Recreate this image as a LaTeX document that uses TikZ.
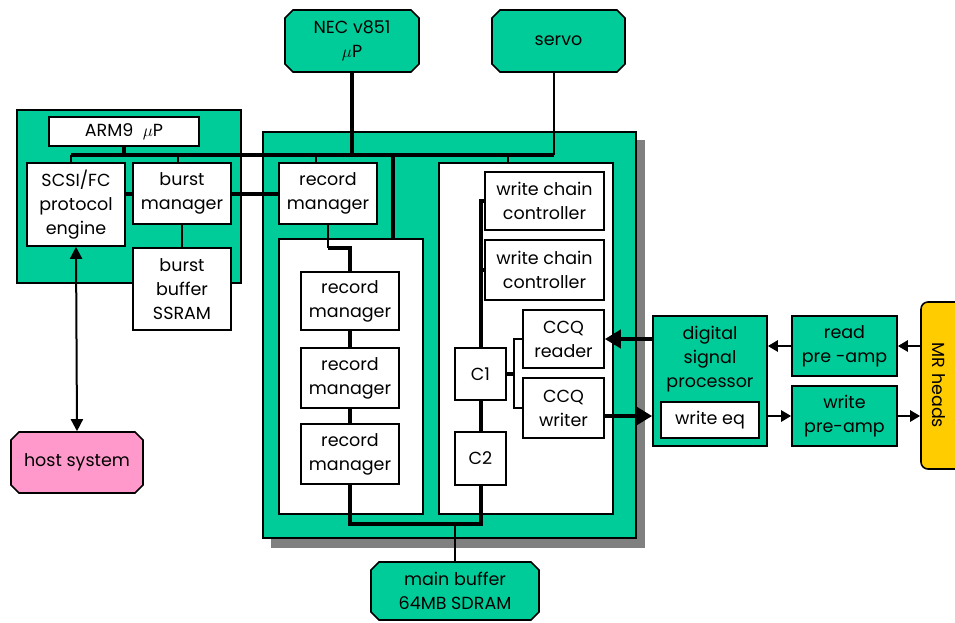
\documentclass[tikz,border=0pt]{standalone}
\usepackage{fontspec}
\setmainfont{Poppins}
\usepackage{tikz}
\usetikzlibrary{arrows.meta,shapes.misc}
\definecolor{chipgreen}{HTML}{00CC99}
\definecolor{hostpink}{HTML}{FF99CC}
\definecolor{headyellow}{HTML}{FFCC00}
\definecolor{shadowgray}{HTML}{808080}
\tikzset{
	box/.style={draw, line width=1.6pt, fill=white, inner sep=0pt, align=center},
	chip/.style={box, fill=chipgreen},
	pkg/.style={chip, chamfered rectangle, chamfered rectangle sep=4pt},
	link/.style={line width=1.6pt},
	bus/.style={line width=4pt},
	arr/.style={line width=2.4pt, -{Triangle[length=10pt,width=11pt]}},
	bigarr/.style={line width=4pt, -{Triangle[length=16pt,width=18pt]}},
	hostarr/.style={line width=2pt, {Triangle[length=12pt,width=12pt]}-{Triangle[length=12pt,width=12pt]}}
}

\begin{document}
\begin{tikzpicture}[x=1pt, y=-1pt, font=\fontsize{17.5}{24}\selectfont]
		\useasboundingbox (0,0) rectangle (955,622);

		% boards
		\fill[shadowgray] (271,140) rectangle (645,548);
		\node[chip, minimum width=373, minimum height=406] (fpga) at (449.5,335) {};
		\node[chip, minimum width=224, minimum height=173] (armchip) at (129,196.5) {};
		\node[box, minimum width=144, minimum height=275] (recpanel) at (351,376.5) {};
		\node[box, minimum width=174, minimum height=351] (wrpanel) at (526,338.5) {};

		\node[box, minimum width=150, minimum height=29] (arm) at (124,131.5) {ARM9~~$\mu$P};
		\node[box, minimum width=98, minimum height=83] (scsi) at (76,204.5) {SCSI/FC\\protocol\\engine};
		\node[box, minimum width=98, minimum height=61] (burst) at (182,193.5) {burst\\manager};
		\node[box, minimum width=98, minimum height=82] (bbuf) at (182,289) {burst\\buffer\\SSRAM};

		\node[box, minimum width=98, minimum height=61] (rmA) at (328,193.5) {record\\manager};
		\node[box, minimum width=98, minimum height=58] (rmB) at (350,301) {record\\manager};
		\node[box, minimum width=98, minimum height=60] (rmC) at (350,378) {record\\manager};
		\node[box, minimum width=98, minimum height=60] (rmD) at (350,454) {record\\manager};

		\node[box, minimum width=119, minimum height=58] (wccA) at (544.5,201) {write chain\\controller};
		\node[box, minimum width=119, minimum height=60] (wccB) at (544.5,270) {write chain\\controller};
		\node[box, minimum width=81, minimum height=58] (ccqR) at (563.5,339) {CCQ\\reader};
		\node[box, minimum width=81, minimum height=60] (ccqW) at (563.5,408) {CCQ\\writer};
		\node[box, minimum width=51, minimum height=52] (cA) at (480.5,374) {C1};
		\node[box, minimum width=51, minimum height=53] (cB) at (480.5,458.5) {C2};

		\node[pkg, minimum width=134, minimum height=62] (nec) at (352,41) {NEC v851\\$\mu$P};
		\node[pkg, minimum width=133, minimum height=62] (servo) at (558.5,41) {servo};
		\node[pkg, minimum width=168, minimum height=58] (mbuf) at (455,591) {main buffer\\64MB SDRAM};
		\node[pkg, fill=hostpink, minimum width=132, minimum height=61] (host) at (77,462.5) {host system};

		\node[chip, minimum width=114, minimum height=130] (dsp) at (710,381) {};
		\node[align=center] (dsptext) at (710,359) {digital\\signal\\processor};
		\node[box, minimum width=98, minimum height=36] (weq) at (710,420) {write eq};
		\node[chip, minimum width=105, minimum height=60] (rpre) at (844.5,346) {read\\pre -amp};
		\node[chip, minimum width=105, minimum height=60] (wpre) at (844.5,416) {write\\pre-amp};
		\node[box, fill=headyellow, rounded corners=7pt, minimum width=44, minimum height=167] (mr) at (943,385.5) {};
		\node[rotate=-90] (mrtext) at (939,385.5) {MR heads};

		% control bus
		\coordinate (busL) at (71,155);
		\coordinate (busR) at (554,155);
		\draw[bus] (busL) -- (busR);
		\draw[bus] (arm.south) -- (arm.south |- busL);
		\draw[bus] (nec.south) -- (nec.south |- busL);
		\draw[link] (servo.south -| busR) -- (busR);
		\draw[link] (scsi.north -| busL) -- (busL);
		\draw[link] ([xshift=-4pt]burst.north) -- ++(0,-8);
		\draw[link] ([xshift=-12pt]rmA.north) -- ++(0,-8);
		\draw[link] ([xshift=-18pt]wrpanel.north) -- ++(0,-8);
		\draw[bus] ([xshift=42pt]recpanel.north) -- ++(0,-84);

		% data path
		\draw[bus] (burst.west) -- (burst.west -| scsi.east);
		\draw[bus] (burst.east) -- (rmA.west);
		\draw[link] (burst.south) -- (bbuf.north);
		\draw[hostarr] (scsi.south) -- (host.north);

		\draw[link] (rmA.south) -- ++(0,23) coordinate (jog);
		\draw[bus] (jog) -| (rmB.north);
		\draw[bus] (rmB.south) -- (rmC.north);
		\draw[bus] (rmC.south) -- (rmD.north);
		\coordinate (join) at (455,524);
		\draw[bus] (rmD.south) |- (join) -| (cB.south);
		\draw[link] (join) -- (mbuf.north);

		\draw[bus] (cA.north) |- (wccA.west);
		\draw[bus] (wccB.west) -- (wccB.west -| cA.north);
		\draw[bus] (cA.south) -- (cB.north);
		\draw[bus] (cA.east) -- ++(7,0) coordinate (brk);
		\draw[link] (ccqR.west) -| (brk) |- (ccqW.west);

		\draw[bigarr] (dsp.west |- ccqR.east) -- (ccqR.east);
		\draw[bigarr] ([yshift=-8pt]ccqW.east) -- ([yshift=-8pt]ccqW.east -| dsp.west);
		\draw[arr] (mr.west |- rpre.east) -- (rpre.east);
		\draw[arr] (rpre.west) -- (rpre.west -| dsp.east);
		\draw[arr] (wpre.west -| dsp.east) -- (wpre.west);
		\draw[arr] (wpre.east) -- (wpre.east -| mr.west);
	\end{tikzpicture}
\end{document}
